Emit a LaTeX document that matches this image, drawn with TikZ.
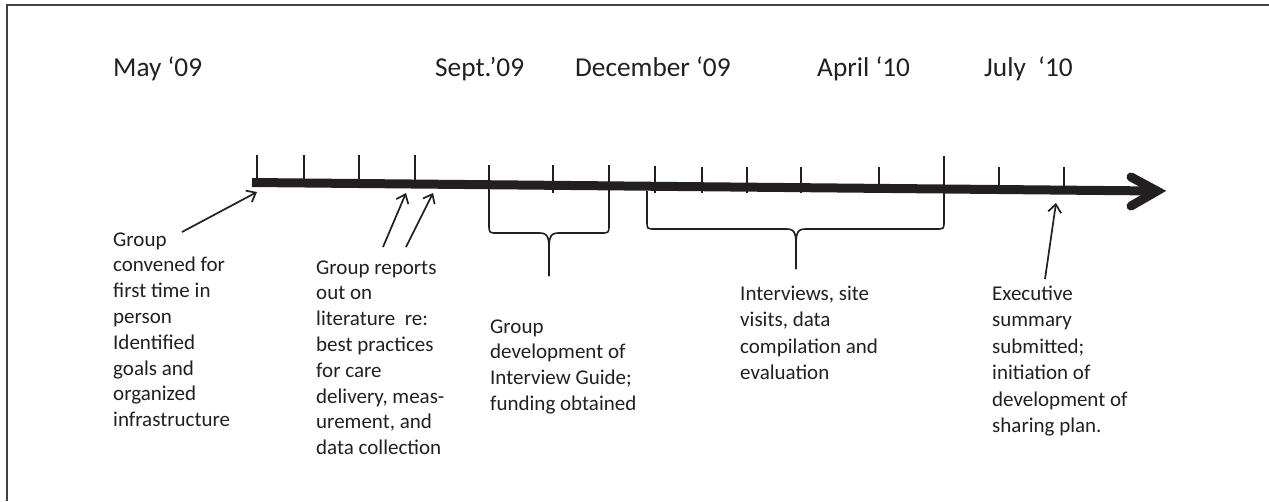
\documentclass[tikz,border=0pt]{standalone}
\usepackage{fontspec}
\setmainfont{Carlito}
\usetikzlibrary{arrows.meta}
\definecolor{ink}{HTML}{231F20}
\tikzset{
  datelabel/.style={anchor=base west, inner sep=0pt, text=ink, font=\fontsize{27.3}{32}\selectfont},
  notetext/.style={anchor=base west, inner sep=0pt, text=ink, align=left, font=\fontsize{21}{25.8}\selectfont},
  notetextwide/.style={notetext, font=\fontsize{21}{26.5}\selectfont},
  tickmark/.style={draw=ink, line width=2pt},
  bracepath/.style={draw=ink, line width=1.6pt, line join=round},
  pointer/.style={draw=ink, line width=1.7pt, -{Straight Barb[length=8pt,width=13pt,line width=1.7pt]}},
  framepath/.style={draw=ink!85, line width=1.6pt}
}
\begin{document}
\begin{tikzpicture}[x=1pt,y=-1pt]
\useasboundingbox (0,0) rectangle (1269,501);
% frame (top and left edges)
\coordinate (ftl) at (7,5);
\coordinate (ftr) at (1269,5);
\coordinate (fbl) at (7,501);
\draw[framepath] (ftr) -- (ftl) -- (fbl);

% dates
\node[datelabel] (may) at (113,76) {May ‘09};
\node[datelabel] (sep) at (435,76) {Sept.’09};
\node[datelabel] (dec) at (575,76) {December ‘09};
\node[datelabel] (apr) at (817,76) {April ‘10};
\node[datelabel] (jul) at (984,76) {July\ \ ‘10};

% main axis
\coordinate (axs) at (252,182.5);
\coordinate (axe) at (1157,191);
\coordinate (ahA) at (1131,177);
\coordinate (ahB) at (1131,206);
\draw[ink, line width=9pt, line cap=butt] (axs) -- (axe);
\draw[ink, line width=9pt, line cap=round, line join=miter] (ahA) -- (axe) -- (ahB);

% ticks
\foreach \x/\t/\b in {257/155/183, 304/155/183, 359/155/184, 415/155/184,
                      489/165/190, 553/165/193, 609/165/190, 655/166/193,
                      702/167/193, 747/167/193, 801/167/193, 879/167/192,
                      944/156/188, 999/167/190, 1064/167/191}{
  \draw[tickmark] (\x,\t) -- (\x,\b);
}

% brace 1
\coordinate (b1l) at (489,185);
\coordinate (b1r) at (609,186);
\coordinate (b1tip) at (549,276);
\draw[bracepath] (b1l) -- (489,224) .. controls (489,233) .. (497,233)
   -- (540,233) .. controls (549,233) and (549,240) .. (549,252) -- (b1tip);
\draw[bracepath] (b1tip) -- (549,252) .. controls (549,240) and (549,233) .. (558,233)
   -- (601,233) .. controls (609,233) .. (609,224) -- (b1r);

% brace 2
\coordinate (b2l) at (647,191);
\coordinate (b2r) at (944,186);
\coordinate (b2tip) at (796,269);
\draw[bracepath] (b2l) -- (647,221) .. controls (647,229) .. (655,229)
   -- (787,229) .. controls (796,229) and (796,236) .. (796,248) -- (b2tip);
\draw[bracepath] (b2tip) -- (796,248) .. controls (796,236) and (796,229) .. (805,229)
   -- (936,229) .. controls (944,229) .. (944,221) -- (b2r);

% text blocks (base anchor = baseline of the last line)
\node[notetext] (t1) at (113,426.6) {Group\\convened for\\first time in\\person\\Identified\\goals and\\organized\\infrastructure};
\node[notetext] (t2) at (316,454.6) {Group reports\\out on\\literature\ \ re:\\best practices\\for care\\delivery, meas-\\urement, and\\data collection};
\node[notetext] (t3) at (490,410.4) {Group\\development of\\Interview Guide;\\funding obtained};
\node[notetextwide] (t4) at (740,379.5) {Interviews, site\\visits, data\\compilation and\\evaluation};
\node[notetextwide] (t5) at (992,432.5) {Executive\\summary\\submitted;\\initiation of\\development of\\sharing plan.};

% pointers
\coordinate (p1s) at (182,232);
\coordinate (p1e) at (257,192);
\coordinate (p2s) at (383,247);
\coordinate (p2e) at (406,193);
\coordinate (p3s) at (406,247);
\coordinate (p3e) at (433,193);
\coordinate (p4s) at (1045,279);
\coordinate (p4e) at (1056,203);
\draw[pointer] (p1s) -- (p1e);
\draw[pointer] (p2s) -- (p2e);
\draw[pointer] (p3s) -- (p3e);
\draw[pointer] (p4s) -- (p4e);
\end{tikzpicture}
\end{document}
